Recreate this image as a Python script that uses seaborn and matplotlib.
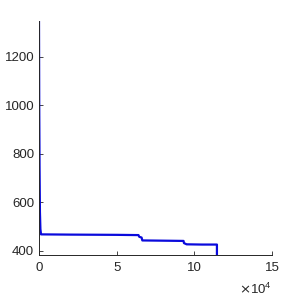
import numpy as np
import pandas as pd
import seaborn as sns
import matplotlib.pyplot as plt
from matplotlib.ticker import FuncFormatter

# curve
x_vals = [0, 150, 350, 600, 900, 1300, 20000, 50000, 64000, 64500, 66000,
          66500, 80000, 93000, 93300, 95000, 105000, 114500, 114500]
y_vals = [1347, 1000, 750, 560, 490, 468, 467, 466, 465, 458, 455,
          443, 442, 441, 432, 427, 426, 426, 383]
x_ticks = [0, 50000, 100000, 150000]
y_ticks = [400, 600, 800, 1000, 1200]

sns.set_style('ticks')
plt.rcParams['font.family'] = ['Liberation Sans', 'DejaVu Sans']
plt.rcParams['xtick.direction'] = 'in'
plt.rcParams['ytick.direction'] = 'in'

df = pd.DataFrame({'x': x_vals, 'y': y_vals})

fig = plt.figure(figsize=(3, 3), dpi=100)
ax = fig.add_axes([0.13, 0.15, 0.777, 0.78])
sns.lineplot(data=df, x='x', y='y', ax=ax, sort=False, estimator=None,
             color='#0a0adc', linewidth=1.6)
ax.set_xlim(0, 150000)
ax.set_ylim(383, 1347)
ax.set_xticks(x_ticks)
ax.set_yticks(y_ticks)
ax.xaxis.set_major_formatter(FuncFormatter(lambda v, p: f'{v / 1e4:g}'))
fig.text(0.907, 0.02, r'$\times\mathdefault{10^{4}}$', ha='right',
         va='baseline', fontsize=9.5, color='#262626')
ax.set_xlabel('')
ax.set_ylabel('')
ax.tick_params(labelsize=9.5, colors='#262626', length=3, width=0.6)
ax.tick_params(axis='x', pad=5)
for s in ['left', 'bottom']:
    ax.spines[s].set_linewidth(0.7)
    ax.spines[s].set_color('#262626')
sns.despine(ax=ax)
fig.savefig('out.png', dpi=100)
